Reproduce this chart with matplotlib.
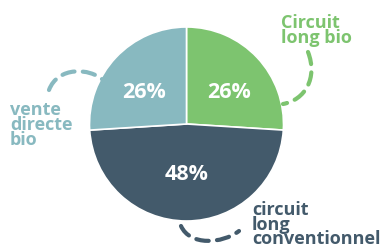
import matplotlib
matplotlib.use("Agg")
import matplotlib.pyplot as plt
from matplotlib.path import Path
from matplotlib.patches import PathPatch

labels = ["Circuit\nlong bio", "circuit\nlong\nconventionnel", "vente\ndirecte\nbio"]
values = [26, 48, 26]
pct_labels = ["26%", "48%", "26%"]
colors = ["#7dc46f", "#435a6b", "#88b9c0"]

W, H = 385, 248
fig = plt.figure(figsize=(W / 100, H / 100), dpi=100)
ax = fig.add_axes([0, 0, 1, 1])

cx, cy, r = 186.5, H - 124, 97
wedges, _ = ax.pie(values, colors=colors, startangle=90, counterclock=False,
                   center=(cx, cy), radius=r,
                   wedgeprops=dict(edgecolor="white", linewidth=1.2), frame=True)
ax.set_xlim(0, W)
ax.set_ylim(0, H)
ax.set_aspect("equal")
ax.axis("off")

font = "Open Sans"
pct_pos = [(229, H - 92), (187, H - 174), (144, H - 92)]
for (x, y), t in zip(pct_pos, pct_labels):
    ax.text(x, y, t, ha="center", va="center", color="white", fontsize=15.5,
            fontweight="bold", family=font)

lab_pos = [(281, H - 14), (252, H - 201), (10, H - 101)]
lab_sp = [0.8, 0.76, 0.8]
for (x, y), t, c, s in zip(lab_pos, labels, colors, lab_sp):
    ax.text(x, y, t, ha="left", va="top", color=c, fontsize=13,
            fontweight="bold", family=font, linespacing=s)

def dashed(pts, color):
    verts = [(x, H - y) for x, y in pts]
    path = Path(verts, [Path.MOVETO, Path.CURVE4, Path.CURVE4, Path.CURVE4])
    ax.add_patch(PathPatch(path, fill=False, edgecolor=color, linewidth=3,
                           linestyle=(0, (3.0, 2.0)), capstyle="round"))

dashed([(308, 52), (318, 78), (305, 100), (283, 104)], colors[0])
dashed([(49, 90), (58, 66), (90, 68), (103, 80)], colors[2])
dashed([(181, 226), (190, 246), (222, 244), (239, 231)], colors[1])

fig.savefig("out.png", dpi=100)
